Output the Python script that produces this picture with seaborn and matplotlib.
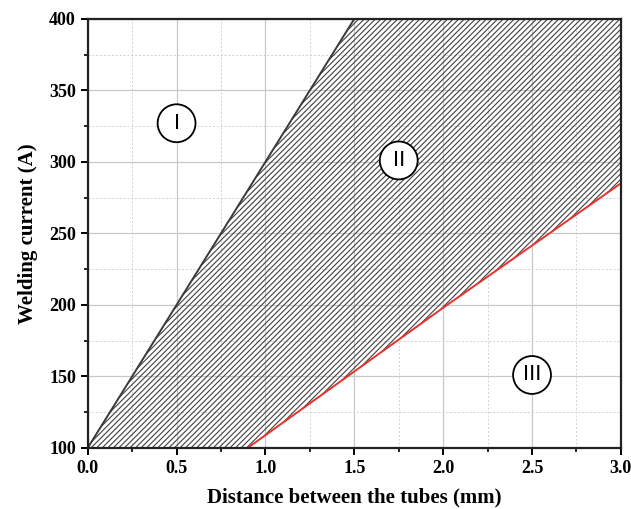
import matplotlib
matplotlib.use("Agg")
import matplotlib.pyplot as plt
import seaborn as sns
import numpy as np
from matplotlib.ticker import MultipleLocator

sns.set_theme(style="white")
plt.rcParams['font.family'] = ['Liberation Serif', 'DejaVu Serif']
plt.rcParams['hatch.linewidth'] = 0.8
plt.rcParams['text.color'] = 'black'
plt.rcParams['axes.labelcolor'] = 'black'

# Boundary lines
upper_x = [0.0, 1.5]
upper_y = [100, 400]
lower_x = [0.9, 2.0, 3.0]
lower_y = [100, 198, 285]

region_labels = ["I", "II", "III"]
region_x = [0.5, 1.75, 2.5]
region_y = [327, 301, 151]

fig = plt.figure(figsize=(6.31, 5.09), dpi=100)
ax = fig.add_axes([0.139, 0.120, 0.845, 0.843])

# Hatched region between lines
xs = np.linspace(0, 3.0, 601)
top = np.clip(np.interp(xs, upper_x, upper_y, right=10000), 100, 400)
bot = np.interp(xs, lower_x, lower_y, left=100)
ax.fill_between(xs, bot, top, where=top >= bot, facecolor="none",
                edgecolor="#404040", hatch="//////", linewidth=0, zorder=1)

sns.lineplot(x=upper_x, y=upper_y, ax=ax, color="#3a3a3a", linewidth=1.4, zorder=3)
sns.lineplot(x=lower_x, y=lower_y, ax=ax, color="#e8302c", linewidth=1.4, zorder=3)

ax.set_xlim(0, 3.0)
ax.set_ylim(100, 400)
ax.xaxis.set_major_locator(MultipleLocator(0.5))
ax.xaxis.set_minor_locator(MultipleLocator(0.25))
ax.yaxis.set_major_locator(MultipleLocator(50))
ax.yaxis.set_minor_locator(MultipleLocator(25))
ax.grid(which="major", color="#c8c8c8", linewidth=0.9, linestyle="-")
ax.grid(which="minor", color="#d0d0d0", linewidth=0.7, linestyle=(0, (2, 2)))
ax.set_axisbelow(True)

ax.tick_params(which="major", direction="out", length=5, width=1.4, colors="black",
               labelsize=13, bottom=True, left=True)
ax.tick_params(which="minor", direction="out", length=3, width=1.2, colors="black",
               bottom=True, left=True)
ax.set_xticks(ax.get_xticks())
ax.set_yticks(ax.get_yticks())
ax.set_xticklabels([f"{v:.1f}" for v in ax.get_xticks()], fontweight="bold", color="black")
ax.set_yticklabels([f"{int(v)}" for v in ax.get_yticks()], fontweight="bold", color="black")
ax.set_xlim(0, 3.0)
ax.set_ylim(100, 400)

for s in ax.spines.values():
    s.set_color("#222222")
    s.set_linewidth(1.6)
    s.set_zorder(5)

ax.set_xlabel("Distance between the tubes (mm)", fontsize=15, fontweight="bold",
              labelpad=8, color="black")
ax.set_ylabel("Welding current (A)", fontsize=15, fontweight="bold",
              labelpad=8, color="black")

for lab, x, y in zip(region_labels, region_x, region_y):
    ax.text(x, y, lab, ha="center", va="center", fontsize=16, color="black",
            family=["Liberation Sans", "DejaVu Sans"], zorder=6,
            bbox=dict(boxstyle="circle,pad=0.38", facecolor="white",
                      edgecolor="black", linewidth=1.3))

fig.savefig("out.png", dpi=100)
